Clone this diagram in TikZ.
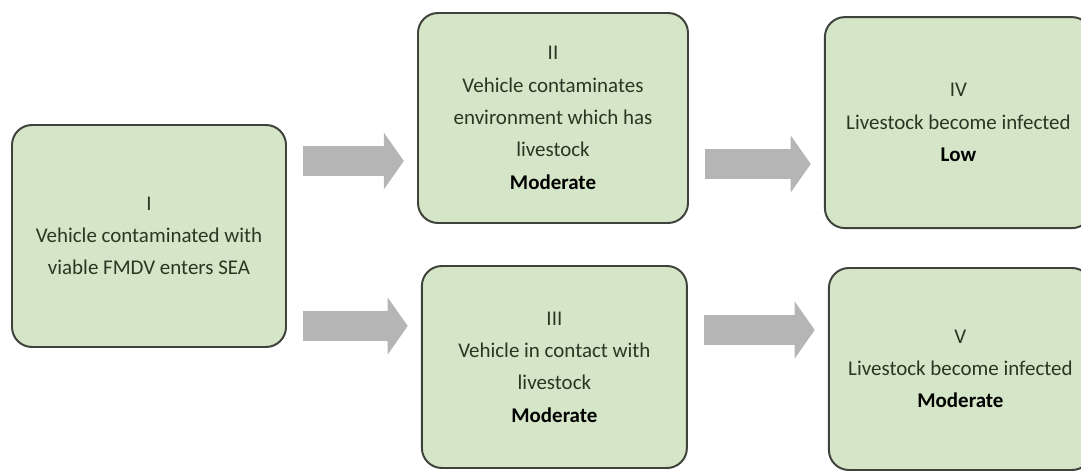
\documentclass[tikz,border=0pt]{standalone}
\usepackage{fontspec}
\setmainfont{Carlito}
\usepackage{tikz}
\usetikzlibrary{arrows.meta}

\definecolor{boxgreen}{RGB}{212,230,199}
\definecolor{boxline}{RGB}{62,66,58}
\definecolor{arrowgray}{RGB}{181,181,181}
\definecolor{textdark}{RGB}{42,54,34}

\tikzset{
  stage/.style={draw=boxline, line width=1.4pt, fill=boxgreen, rounded corners=0.5cm,
    align=center, text=textdark, font=\fontsize{14.9}{23}\selectfont, inner sep=0pt},
  fatarrow/.style={draw=arrowgray, line width=0.75cm,
    -{Triangle[length=0.5cm,width=1.4cm,fill=arrowgray]},
    shorten <=0.4cm, shorten >=0.33cm},
}

\begin{document}
\begin{tikzpicture}
\useasboundingbox (0,0) rectangle (27.025,11.775);

% stages of the pathway
\node[stage, minimum width=6.85cm, minimum height=5.55cm] (I) at (3.725,5.875)
  {I\\Vehicle contaminated with\\viable FMDV enters SEA};
\node[stage, minimum width=6.75cm, minimum height=5.25cm] (II) at (13.825,8.825)
  {II\\Vehicle contaminates\\environment which has\\livestock\\\textcolor{black}{\textbf{Moderate}}};
\node[stage, minimum width=6.625cm, minimum height=5.05cm] (III) at (13.86,2.6)
  {III\\Vehicle in contact with\\livestock\\\textcolor{black}{\textbf{Moderate}}};
\node[stage, minimum width=6.675cm, minimum height=5.275cm] (IV) at (23.96,8.71)
  {IV\\Livestock become infected\\\textcolor{black}{\textbf{Low}}};
\node[stage, minimum width=6.575cm, minimum height=5.05cm] (V) at (24.01,2.55)
  {V\\Livestock become infected\\\textcolor{black}{\textbf{Moderate}}};

% heights of the arrows
\coordinate (a1) at (0,7.75);
\coordinate (a2) at (0,3.625);
\coordinate (a3) at (0,7.675);
\coordinate (a4) at (0,3.525);

\draw[fatarrow] (I.east |- a1) -- (II.west |- a1);
\draw[fatarrow] (I.east |- a2) -- (III.west |- a2);
\draw[fatarrow] (II.east |- a3) -- (IV.west |- a3);
\draw[fatarrow] (III.east |- a4) -- (V.west |- a4);
\end{tikzpicture}
\end{document}
